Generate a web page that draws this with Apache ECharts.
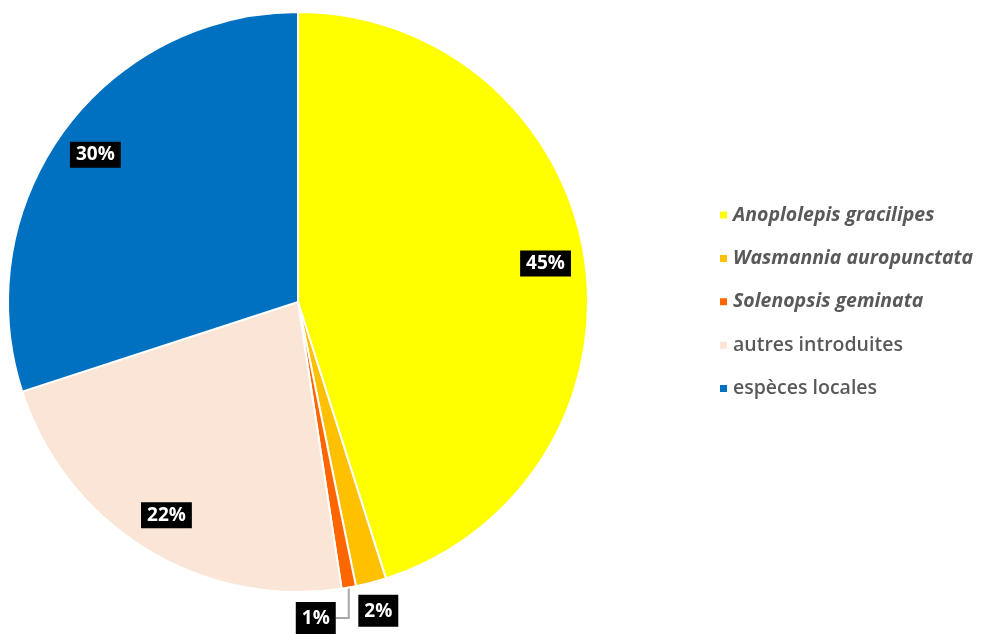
<!DOCTYPE html>
<html>
<head>
<meta charset="utf-8">
<title>Fourmis</title>
<script src="https://cdn.jsdelivr.net/npm/echarts@6/dist/echarts.min.js"></script>
<style>
  html, body { margin: 0; padding: 0; background: #fff; }
  #main { width: 990px; height: 634px; }
</style>
</head>
<body>
<div id="main"></div>
<script>
// catégories et parts (%)
var names = ['Anoplolepis gracilipes', 'Wasmannia auropunctata', 'Solenopsis geminata', 'autres introduites', 'espèces locales'];
var values = [45.1, 1.7, 0.8, 22.4, 30];
var colors = ['#FFFF00', '#FFC000', '#FF6600', '#FBE5D6', '#0070C0'];
var italicNames = ['Anoplolepis gracilipes', 'Wasmannia auropunctata', 'Solenopsis geminata'];

var chart = echarts.init(document.getElementById('main'));

var boxLabel = {
  color: '#fff',
  backgroundColor: '#000',
  fontFamily: 'Open Sans',
  fontWeight: 'bold',
  fontSize: 19,
  padding: [4, 6, 3, 6],
  formatter: function (p) { return Math.round(p.value) + '%'; }
};

// série principale : secteurs + étiquettes extérieures des petites parts
var mainData = names.map(function (n, i) {
  var item = { name: n, value: values[i], itemStyle: { color: colors[i] } };
  if (values[i] < 5) {
    item.label = { show: true, padding: [7, 6, 6, 6] };
    item.labelLine = i === 2
      ? { show: true, length: 31, length2: 13 }
      : { show: true, length: 29, length2: 0, lineStyle: { opacity: 0 } };
  } else {
    item.label = { show: false };
  }
  return item;
});

// anneau transparent pour placer les grandes étiquettes vers le bord
var ringData = names.map(function (n, i) {
  return { name: n, value: values[i], label: { show: values[i] >= 5 } };
});

chart.setOption({
  animation: false,
  legend: {
    orient: 'vertical',
    left: 713,
    top: 200,
    itemWidth: 9,
    itemHeight: 9,
    itemGap: 23.4,
    icon: 'rect',
    data: names,
    formatter: function (n) {
      return italicNames.indexOf(n) >= 0 ? '{i|' + n + '}' : n;
    },
    textStyle: {
      color: '#595959',
      fontFamily: 'Open Sans',
      fontWeight: 600,
      fontSize: 19.5,
      rich: {
        i: { color: '#595959', fontFamily: 'Open Sans', fontWeight: 'bold', fontSize: 19.5, fontStyle: 'italic' }
      }
    }
  },
  series: [
    {
      type: 'pie',
      center: [298, 302],
      radius: [0, 290],
      startAngle: 90,
      clockwise: true,
      avoidLabelOverlap: false,
      itemStyle: { borderColor: '#fff', borderWidth: 2 },
      label: Object.assign({ position: 'outside' }, boxLabel),
      labelLine: { lineStyle: { color: '#A6A6A6', width: 2 } },
      labelLayout: function (p) {
        var pts = p.labelLinePoints;
        if (!pts) return;
        var w = p.labelRect.width, h = p.labelRect.height;
        if (p.dataIndex === 1) {
          // étiquette 2% centrée au bout du trait (trait invisible)
          return { x: pts[1][0] - w / 2, y: pts[1][1] - h / 2, align: 'left', verticalAlign: 'top' };
        }
        if (p.dataIndex === 2) {
          // étiquette 1% à gauche d'un trait coudé
          var dx = pts[2][0] - pts[1][0];
          var p1 = [pts[0][0], pts[1][1]];
          var end = [p1[0] - dx, p1[1]];
          return {
            x: end[0] - w,
            y: end[1] - h / 2,
            align: 'left',
            verticalAlign: 'top',
            labelLinePoints: [pts[0], p1, end]
          };
        }
      },
      data: mainData
    },
    {
      type: 'pie',
      center: [298, 302],
      radius: [205, 290],
      startAngle: 90,
      clockwise: true,
      silent: true,
      itemStyle: { color: 'rgba(0,0,0,0)', borderWidth: 0 },
      label: Object.assign({ position: 'inside' }, boxLabel),
      labelLine: { show: false },
      data: ringData
    }
  ]
});
</script>
</body>
</html>
